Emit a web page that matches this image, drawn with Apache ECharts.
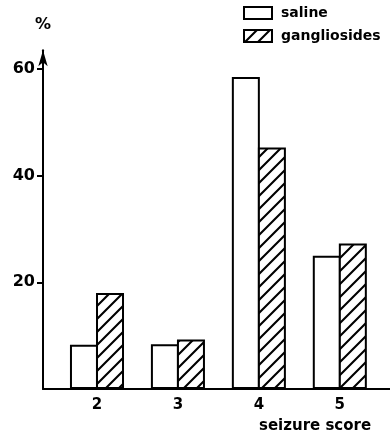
<!DOCTYPE html>
<html>
<head>
<meta charset="utf-8">
<script src="https://cdn.jsdelivr.net/npm/echarts@6/dist/echarts.min.js"></script>
<style>
  html, body { margin: 0; padding: 0; background: #fff; }
  #chart { width: 390px; height: 434px; }
</style>
</head>
<body>
<div id="chart"></div>
<script>
// Seizure score distribution (%) for the two treatment groups
const scores = [2, 3, 4, 5];
const saline = [8.3, 8.4, 58.5, 25.0];
const gangliosides = [18.0, 9.3, 45.3, 27.3];
const yTickValues = [20, 40, 60];
const seriesNames = ['saline', 'gangliosides'];

const FONT = 'DejaVu Sans';

// diagonal "/" hatch used for the gangliosides bars
function hatch() {
  const s = 13;
  const c = document.createElement('canvas');
  c.width = s; c.height = s;
  const g = c.getContext('2d');
  g.fillStyle = '#fff';
  g.fillRect(0, 0, s, s);
  g.strokeStyle = '#000';
  g.lineWidth = 2.1;
  g.beginPath();
  g.moveTo(-2, s + 2); g.lineTo(s + 2, -2);
  g.moveTo(-2, 2); g.lineTo(2, -2);
  g.moveTo(s - 2, s + 2); g.lineTo(s + 2, s - 2);
  g.stroke();
  return c;
}

const chart = echarts.init(document.getElementById('chart'), null, { renderer: 'canvas' });

const barStyle = { borderColor: '#000', borderWidth: 2 };

chart.setOption({
  animation: false,
  backgroundColor: '#fff',
  title: {
    text: 'seizure score',
    left: 254, top: 414,
    textStyle: { fontFamily: FONT, fontSize: 15, fontWeight: 'bold', color: '#000' }
  },
  legend: {
    orient: 'vertical',
    left: 243, top: 6,
    padding: 0,
    icon: 'rect',
    itemWidth: 28, itemHeight: 12,
    itemGap: 9,
    data: seriesNames,
    itemStyle: { borderColor: '#000', borderWidth: 2 },
    textStyle: { fontFamily: FONT, fontSize: 14, fontWeight: 'bold', color: '#000', padding: [0, 0, 0, 4] }
  },
  grid: { left: 43, right: 0, top: 50.3, bottom: 45, containLabel: false },
  xAxis: {
    type: 'value',
    min: 1.333, max: 5.62,
    splitLine: { show: false },
    axisLine: { show: true, onZero: false, lineStyle: { color: '#000', width: 2 } },
    axisTick: { show: false },
    axisLabel: {
      customValues: scores,
      margin: 9,
      fontFamily: FONT, fontSize: 15, fontWeight: 'bold', color: '#000'
    }
  },
  yAxis: {
    type: 'value',
    min: 0, max: 63.5,
    name: '%',
    nameLocation: 'end',
    nameGap: 17,
    nameTextStyle: { fontFamily: FONT, fontSize: 16, fontWeight: 'bold', color: '#000', align: 'center' },
    splitLine: { show: false },
    axisLine: {
      show: true,
      symbol: ['none', 'arrow'],
      symbolSize: [7, 16],
      lineStyle: { color: '#000', width: 2 }
    },
    axisTick: { show: true, customValues: yTickValues, length: 6, lineStyle: { color: '#000', width: 2 } },
    axisLabel: {
      customValues: yTickValues,
      margin: 8,
      fontFamily: FONT, fontSize: 16, fontWeight: 'bold', color: '#000'
    }
  },
  series: [
    {
      name: seriesNames[0],
      type: 'bar',
      barWidth: 28,
      barGap: '-7%',
      itemStyle: Object.assign({ color: '#fff' }, barStyle),
      data: scores.map((s, i) => [s, saline[i]])
    },
    {
      name: seriesNames[1],
      type: 'bar',
      barWidth: 28,
      barGap: '-7%',
      itemStyle: Object.assign({ color: { image: hatch(), repeat: 'repeat' } }, barStyle),
      data: scores.map((s, i) => [s, gangliosides[i]])
    }
  ]
});
</script>
</body>
</html>
